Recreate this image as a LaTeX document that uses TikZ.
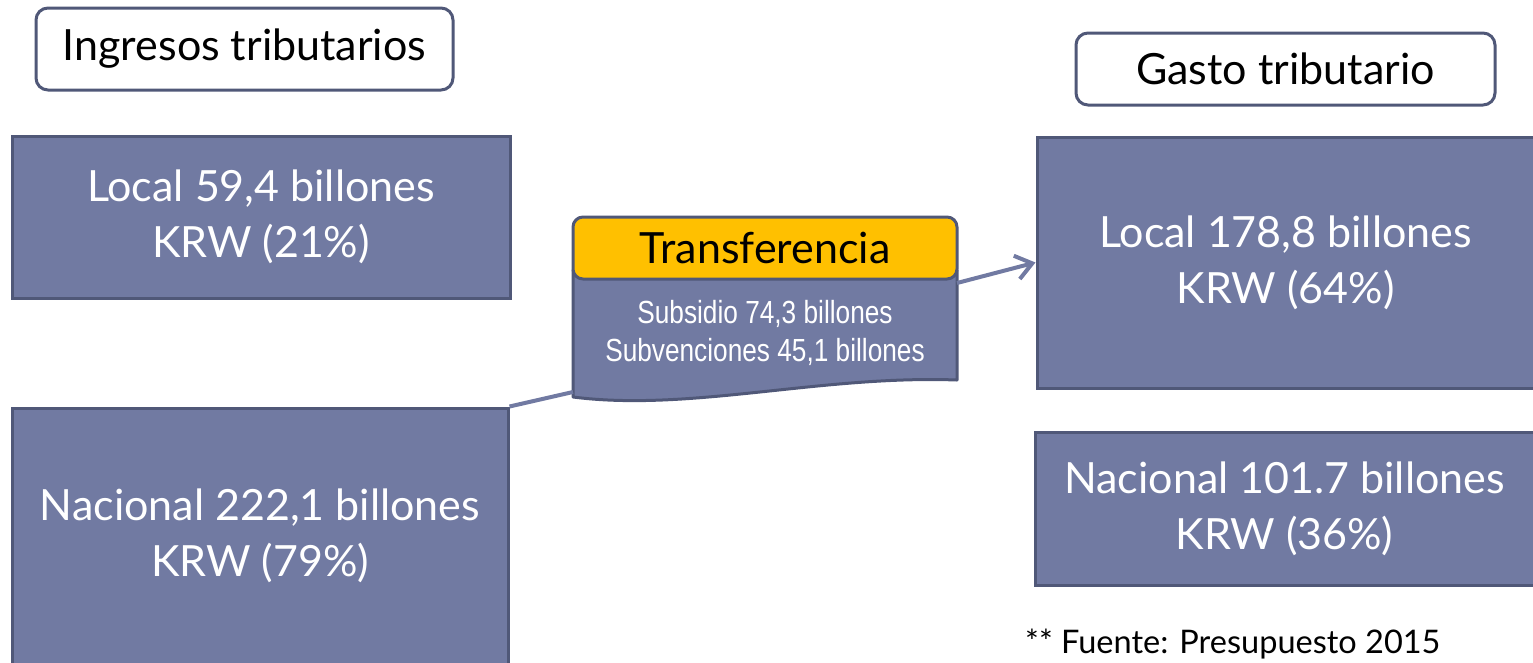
\documentclass[tikz,border=0pt]{standalone}
\usepackage{fontspec}
\setmainfont{Lato}
\newfontfamily\arialfont[FakeStretch=0.82]{Liberation Sans}
\usetikzlibrary{arrows.meta}
\definecolor{slate}{RGB}{113,122,162}
\definecolor{slateline}{RGB}{80,88,120}
\definecolor{gold}{RGB}{255,192,0}

\begin{document}
\begin{tikzpicture}[x=1pt,y=-1pt,
  titlebox/.style={draw=slateline,line width=3pt,fill=white,rounded corners=12pt,font=\fontsize{43}{50}\selectfont},
  databox/.style={draw=slateline,line width=3pt,fill=slate,text=white,align=center,font=\fontsize{43}{56}\selectfont},
  link/.style={draw=slate,line width=4pt}]
\useasboundingbox (0,0) rectangle (1533,662);
\clip (0,0) rectangle (1533,662);
% headings
\node[titlebox,minimum width=417pt,minimum height=82pt] (ingresos) at (244.5,49) {Ingresos tributarios};
\node[titlebox,minimum width=419pt,minimum height=72pt] (gasto) at (1285.5,69) {Gasto tributario};
% amounts
\node[databox,minimum width=498pt,minimum height=162pt] (localA) at (261,217) {Local 59,4 billones\\KRW (21\%)};
\node[databox,minimum width=496pt,minimum height=256pt] (nacA) at (260,536) {Nacional 222,1 billones\\KRW (79\%)};
\node[databox,minimum width=497pt,minimum height=251pt] (localB) at (1285.5,262.5) {Local 178,8 billones\\KRW (64\%)};
\node[databox,minimum width=499pt,minimum height=153pt] (nacB) at (1284.5,508.5) {Nacional 101.7 billones\\KRW (36\%)};
% transfer
\filldraw[draw=slateline,fill=slate,line width=3pt,line join=round] (573,270) -- (957,270) -- (957,380) .. controls (820,375) and (690,412) .. (573,397) -- cycle;
\node[draw=slateline,line width=3pt,fill=gold,rounded corners=10pt,minimum width=384pt,minimum height=62pt,font=\fontsize{43}{50}\selectfont] (transfer) at (765,248) {Transferencia};
\node[text=white,align=center,font=\arialfont\fontsize{32}{38}\selectfont] (subsidio) at (765,333) {Subsidio 74,3 billones\\Subvenciones 45,1 billones};
\coordinate (docL) at (573,392);
\coordinate (docR) at (957,283);
\draw[link] (nacA.north east) -- (docL);
\draw[link,-{Straight Barb[length=16pt,width=24pt]}] (docR) -- (localB.west);
% source
\node[anchor=base west,inner sep=0pt,font=\fontsize{32.5}{36}\selectfont] (fuente) at (1025,653) {** Fuente: Presupuesto 2015};
\end{tikzpicture}
\end{document}
